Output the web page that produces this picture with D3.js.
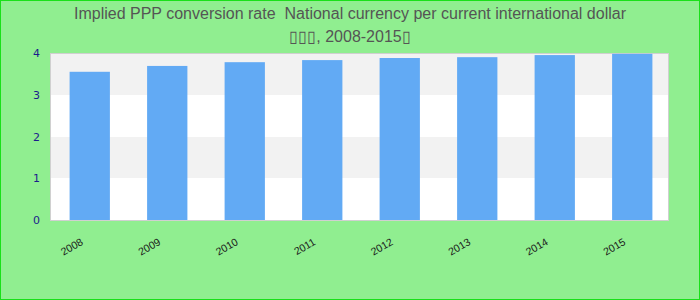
<!DOCTYPE html>
<html>
<head>
<meta charset="utf-8">
<script src="https://cdn.jsdelivr.net/npm/d3@7"></script>
<style>
  body { margin: 0; }
  text { font-family: "Liberation Sans", Arial, sans-serif; }
</style>
</head>
<body>
<div id="chart"></div>
<script>
// data
var years = ["2008", "2009", "2010", "2011", "2012", "2013", "2014", "2015"];
var pppRate = [3.55, 3.69, 3.78, 3.83, 3.88, 3.90, 3.95, 3.98];
var yTicks = [0, 1, 2, 3, 4];
var titleLines = [
  "Implied PPP conversion rate  National currency per current international dollar",
  "\u25AF\u25AF\u25AF, 2008-2015\u25AF"
];

var width = 700
  , height = 300
  , margin = {top: 53, right: 29, bottom: 80, left: 51};

var svg = d3.select("#chart").append("svg")
  .attr("width", width)
  .attr("height", height);

// background + green frame
svg.append("rect")
  .attr("x", 0.5).attr("y", 0.5)
  .attr("width", width - 1).attr("height", height - 1)
  .attr("fill", "#90ee90")
  .attr("stroke", "#19e019")
  .attr("stroke-width", 1);

var x = d3.scaleBand()
  .domain(years)
  .range([margin.left, width - margin.right])
  .paddingInner(0.48)
  .paddingOuter(0.24);

var y = d3.scaleLinear()
  .domain([0, 4])
  .range([height - margin.bottom, margin.top]);

// plot area: white base, grey bands on odd intervals
var plotW = width - margin.left - margin.right - 2;
svg.append("rect")
  .attr("x", margin.left)
  .attr("y", y(4))
  .attr("width", plotW)
  .attr("height", y(0) - y(4))
  .attr("fill", "#ffffff");

svg.selectAll(".stripe")
  .data([1, 3])
 .enter().append("rect")
  .attr("class", "stripe")
  .attr("x", margin.left)
  .attr("y", d => Math.round(y(d + 1)))
  .attr("width", plotW)
  .attr("height", d => Math.round(y(d)) - Math.round(y(d + 1)))
  .attr("fill", "#f2f2f2")
  .attr("shape-rendering", "crispEdges");

svg.append("rect")
  .attr("x", margin.left - 0.5)
  .attr("y", margin.top + 0.5)
  .attr("width", plotW)
  .attr("height", y(0) - y(4))
  .attr("fill", "none")
  .attr("stroke", "#d0d0d0");

// bars
svg.selectAll(".bar")
  .data(years)
 .enter().append("rect")
  .attr("class", "bar")
  .attr("x", d => x(d))
  .attr("y", (d, i) => y(pppRate[i]))
  .attr("width", x.bandwidth())
  .attr("height", (d, i) => y(0) - y(pppRate[i]))
  .attr("fill", "#62aaf4");

// y axis labels
var yAxis = svg.append("g")
  .attr("transform", "translate(" + (margin.left - 11) + ",0)")
  .call(d3.axisLeft(y).tickValues(yTicks).tickFormat(d3.format("d")).tickSize(0).tickPadding(0));
yAxis.select(".domain").remove();
yAxis.selectAll("text")
  .attr("fill", "#1c1c8c")
  .style("font-size", "11px")
  .style("font-family", "DejaVu Sans, sans-serif");

// x axis labels, rotated
var xAxis = svg.append("g")
  .attr("transform", "translate(0," + (height - margin.bottom) + ")")
  .call(d3.axisBottom(x).tickSize(0).tickPadding(0));
xAxis.select(".domain").remove();
xAxis.selectAll("text")
  .attr("fill", "#1a1a1a")
  .style("font-size", "10.5px")
  .attr("text-anchor", "end")
  .attr("dy", null)
  .attr("transform", "translate(-6,24) rotate(-30)");

// title
svg.selectAll(".title")
  .data(titleLines)
 .enter().append("text")
  .attr("class", "title")
  .attr("x", width / 2)
  .attr("y", (d, i) => 19 + i * 23)
  .attr("text-anchor", "middle")
  .attr("fill", "#555555")
  .style("font-size", "16px")
  .style("white-space", "pre")
  .text(d => d);
</script>
</body>
</html>
